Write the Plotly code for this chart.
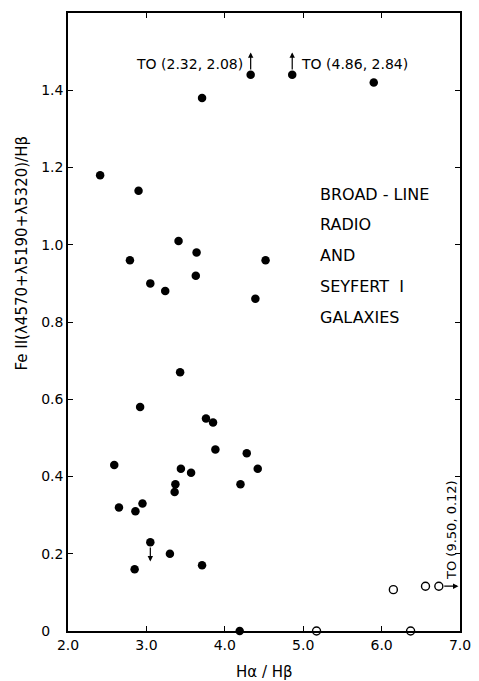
import plotly.graph_objects as go

# Filled circles: broad-line radio galaxies / Seyfert 1 (Hα/Hβ, FeII/Hβ)
filled_x = [4.33, 4.86, 5.90, 3.71, 2.41, 2.90, 3.41, 3.64, 2.79, 4.52, 3.63, 3.05,
            3.24, 4.39, 3.43, 2.92, 3.76, 3.85, 3.88, 4.28, 2.59, 3.44, 4.42, 3.57,
            3.37, 4.20, 3.36, 2.95, 2.65, 2.86, 3.05, 3.30, 3.71, 2.85, 4.19]
filled_y = [1.44, 1.44, 1.42, 1.38, 1.18, 1.14, 1.01, 0.98, 0.96, 0.96, 0.92, 0.90,
            0.88, 0.86, 0.67, 0.58, 0.55, 0.54, 0.47, 0.46, 0.43, 0.42, 0.42, 0.41,
            0.38, 0.38, 0.36, 0.33, 0.32, 0.31, 0.23, 0.20, 0.17, 0.16, 0.00]

# Open circles
open_x = [5.17, 6.37, 6.15, 6.56, 6.73]
open_y = [0.00, 0.00, 0.107, 0.116, 0.116]

x_ticks = [2.0, 3.0, 4.0, 5.0, 6.0, 7.0]
x_ticklabels = ["2.0", "3.0", "4.0", "5.0", "6.0", "7.0"]
y_ticks = [0, 0.2, 0.4, 0.6, 0.8, 1.0, 1.2, 1.4]
y_ticklabels = ["0\u00a0\u00a0\u00a0", "0.2", "0.4", "0.6", "0.8", "1.0", "1.2", "1.4"]

# Limit markers: (index into filled list, label, side)
up_limits = [(0, "TO (2.32, 2.08)", "right"), (1, "TO (4.86, 2.84)", "left")]
down_limit_idx = 30
right_limit_idx = 4
right_limit_label = "TO (9.50, 0.12)"

legend_lines = ["BROAD - LINE", "RADIO", "AND", "SEYFERT  I", "GALAXIES"]

x_title = "Hα / Hβ"
y_title = "Fe II(λ4570+λ5190+λ5320)/Hβ"

FONT = "DejaVu Sans"

fig = go.Figure()
fig.add_trace(go.Scatter(
    x=filled_x, y=filled_y, mode="markers",
    marker=dict(size=8.5, color="black", line=dict(width=0)),
    cliponaxis=False, showlegend=False))
fig.add_trace(go.Scatter(
    x=open_x, y=open_y, mode="markers",
    marker=dict(size=8, color="white", line=dict(width=1.4, color="black")),
    cliponaxis=False, showlegend=False))

annotations = []
arrow_style = dict(showarrow=True, arrowhead=2, arrowsize=0.9, arrowwidth=1.2,
                   arrowcolor="black", text="", axref="x", ayref="y", xref="x", yref="y")
for idx, label, side in up_limits:
    xv, yv = filled_x[idx], filled_y[idx]
    annotations.append(dict(x=xv, y=yv + 0.058, ax=xv, ay=yv + 0.01, **arrow_style))
    if side == "right":
        annotations.append(dict(x=xv - 0.07, y=yv + 0.027, text=label, showarrow=False,
                                xanchor="right", yanchor="middle",
                                font=dict(family=FONT, size=14, color="black")))
    else:
        annotations.append(dict(x=xv + 0.08, y=yv + 0.027, text=label, showarrow=False,
                                xanchor="left", yanchor="middle",
                                font=dict(family=FONT, size=14, color="black")))

dx, dy = filled_x[down_limit_idx], filled_y[down_limit_idx]
annotations.append(dict(x=dx, y=dy - 0.05, ax=dx, ay=dy - 0.01, **arrow_style))

rx, ry = open_x[right_limit_idx], open_y[right_limit_idx]
annotations.append(dict(x=6.98, y=ry, ax=rx + 0.05, ay=ry, **arrow_style))
annotations.append(dict(x=6.89, y=ry + 0.012, text=right_limit_label, showarrow=False,
                        textangle=-90, xanchor="center", yanchor="bottom",
                        font=dict(family=FONT, size=13, color="black")))

line_y = [1.131, 1.053, 0.973, 0.891, 0.811]
for txt, ly in zip(legend_lines, line_y):
    annotations.append(dict(x=5.19, y=ly, text=txt, showarrow=False,
                            xanchor="left", yanchor="middle",
                            font=dict(family=FONT, size=16, color="black")))

# axis titles placed as in the reference
annotations.append(dict(x=-0.117, y=0.611, xref="paper", yref="paper", text=y_title,
                        showarrow=False, textangle=-90, xanchor="center", yanchor="middle",
                        font=dict(family=FONT, size=15, color="black")))
annotations.append(dict(x=0.5, y=-0.067, xref="paper", yref="paper", text=x_title,
                        showarrow=False, xanchor="center", yanchor="middle",
                        font=dict(family=FONT, size=15, color="black")))

axis_common = dict(showline=True, linecolor="black", linewidth=1.5, mirror="allticks",
                   ticks="inside", ticklen=5, tickwidth=1.3, tickcolor="black",
                   showgrid=False, zeroline=False, automargin=False,
                   tickfont=dict(family=FONT, size=14, color="black"))

fig.update_layout(
    width=479, height=681,
    margin=dict(l=68, r=19, t=13, b=50),
    paper_bgcolor="white", plot_bgcolor="white",
    xaxis=dict(range=[2.0, 7.0], tickvals=x_ticks, ticktext=x_ticklabels,
               **axis_common),
    yaxis=dict(range=[0, 1.6], tickvals=y_ticks, ticktext=y_ticklabels,
               **axis_common),
    annotations=annotations,
)

fig.write_html("out.html")
